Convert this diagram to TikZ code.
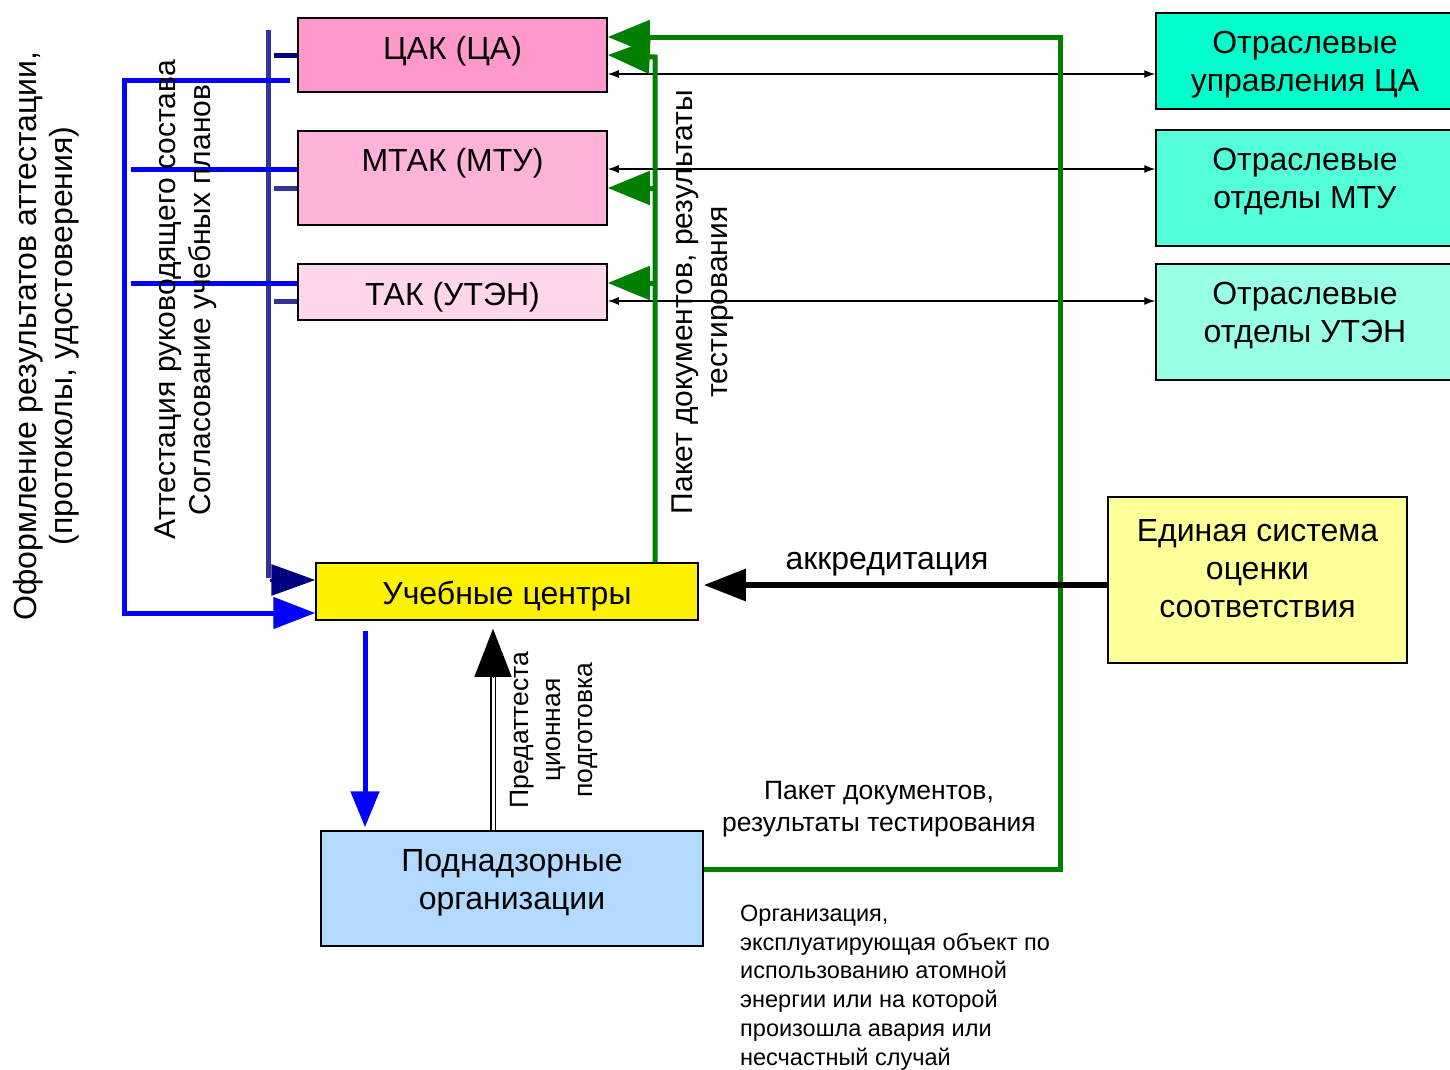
\documentclass[tikz,border=0pt]{standalone}
\usepackage{fontspec}
\setmainfont{Liberation Sans}
\usetikzlibrary{arrows.meta}
\definecolor{cakfill}{HTML}{FF99CC}
\definecolor{mtakfill}{HTML}{FFB3D9}
\definecolor{takfill}{HTML}{FFD6EB}
\definecolor{ra}{HTML}{00FFCC}
\definecolor{rb}{HTML}{52FFD9}
\definecolor{rc}{HTML}{99FFE6}
\definecolor{esosfill}{HTML}{FFFF99}
\definecolor{podfill}{HTML}{B3D9FF}
\definecolor{grn}{HTML}{008000}
\definecolor{blu}{HTML}{0000FF}
\definecolor{indig}{HTML}{333399}
\definecolor{navyc}{HTML}{000080}
\tikzset{
  box/.style={draw=black,line width=1.5pt,inner sep=0pt,rectangle},
  txt/.style={inner sep=0pt,font=\fontsize{32}{38}\selectfont,align=center,yshift=-3pt},
  rtxt/.style={inner sep=0pt,font=\fontsize{30}{35}\selectfont,align=center,rotate=90},
  thinarr/.style={line width=1.3pt,{Latex[length=11pt,width=8pt]}-{Latex[length=11pt,width=8pt]}},
  grnarr/.style={grn,line width=5pt,-{Triangle[length=42pt,width=33pt]}},
  grnline/.style={grn,line width=5pt},
  bluline/.style={blu,line width=5pt},
  bluarr/.style={blu,line width=5pt,-{Triangle[length=42pt,width=31pt]}},
  indline/.style={indig,line width=5pt},
}
\begin{document}
\begin{tikzpicture}[x=1pt,y=-1pt]
\useasboundingbox (0,0) rectangle (1450,1069);
\begin{scope}
\clip (0,0) rectangle (1450,1069);
% boxes
\node[box,fill=cakfill,minimum width=309pt,minimum height=74pt] (cak) at (452.5,55) {};
\node[box,fill=mtakfill,minimum width=309pt,minimum height=94pt] (mtak) at (452.5,178) {};
\node[box,fill=takfill,minimum width=309pt,minimum height=56pt] (tak) at (452.5,292) {};
\node[box,fill=ra,minimum width=304pt,minimum height=96pt] (ra) at (1308,61) {};
\node[box,fill=rb,minimum width=304pt,minimum height=116pt] (rb) at (1308,188) {};
\node[box,fill=rc,minimum width=304pt,minimum height=116pt] (rc) at (1308,322) {};
\node[box,fill=yellow,minimum width=382pt,minimum height=57pt] (uc) at (507,591.5) {};
\node[box,fill=esosfill,minimum width=299pt,minimum height=166pt] (esos) at (1257.5,580) {};
\node[box,fill=podfill,minimum width=382pt,minimum height=115pt] (pod) at (512,888.5) {};
\end{scope}

% named coordinates for bends and free ends
\coordinate (gcorner) at (1060,37);
\coordinate (gtop) at (655,57);
\coordinate (bstart) at (290,80);
\coordinate (bcornerA) at (124,80);
\coordinate (bcornerB) at (124,613);
\coordinate (bm) at (131,169);
\coordinate (bt) at (131,283);
\coordinate (itop) at (268,30);
\coordinate (ibot) at (268,578);

% thin double arrows
\draw[thinarr] (cak.east |- 0,74) -- (ra.west |- 0,74);
\draw[thinarr] (mtak.east |- 0,169) -- (rb.west |- 0,169);
\draw[thinarr] (tak.east |- 0,301) -- (rc.west |- 0,301);

% indigo vertical line with stubs
\draw[indline] (itop) -- (ibot);
\draw[navyc,line width=5pt] (274,55) -- (cak.west |- 0,55);
\draw[indline] (274,188) -- (mtak.west |- 0,188);
\draw[indline] (274,301) -- (tak.west |- 0,301);
\draw[navyc,line width=3pt,-{Triangle[length=44pt,width=31pt]}] (ibot) ++(2,2) -- (uc.west |- 0,580);

% blue bracket and lines
\draw[bluarr] (bstart) -- (bcornerA) -- (bcornerB) -- (uc.west |- 0,613);
\draw[bluline] (bm) -- (mtak.west |- 0,169);
\draw[bluline] (bt) -- (tak.west |- 0,283);

% blue down arrow
\draw[blu,line width=5pt,-{Triangle[length=36pt,width=28pt]}] (uc.south -| 365,0) ++(0,10) -- ([yshift=3pt]pod.north -| 365,0);

% double black up arrow
\draw[black,line width=1.6pt,double=white,double distance=3pt] (pod.north -| 493,0) -- (493,674);
\draw[black,line width=1pt,-{Triangle[length=48pt,width=37pt]}] (493,678) -- ([yshift=-8pt]uc.south -| 493,0);

% green lines
\draw[grnarr] (pod.east |- 0,869) -| (gcorner) -- (cak.east |- 0,37);
\draw[grnarr] (uc.north -| 655,0) -- (gtop) -- (cak.east |- 0,55);
\draw[grnarr] (655,188) -- (mtak.east |- 0,188);
\draw[grnarr] (655,283) -- (tak.east |- 0,283);

% accreditation arrow
\draw[black,line width=6pt,-{Triangle[length=42pt,width=31pt]}] (esos.west |- 0,585) -- ([xshift=5pt]uc.east |- 0,585);

% box texts
\node[txt] (tcak) at (452.5,48) {ЦАК (ЦА)};
\node[txt] (tmtak) at (452.5,160) {МТАК (МТУ)};
\node[txt] (ttak) at (452.5,294) {ТАК (УТЭН)};
\node[txt] (tra) at (1305,62) {Отраслевые\\управления ЦА};
\node[txt] (trb) at (1305,179) {Отраслевые\\отделы МТУ};
\node[txt] (trc) at (1305,313) {Отраслевые\\отделы УТЭН};
\node[txt] (tuc) at (507,593) {Учебные центры};
\node[txt] (tesos) at (1257.5,566) {Единая система\\оценки\\соответствия};
\node[txt] (tpod) at (512,880) {Поднадзорные\\организации};

% labels
\node[txt] (lakk) at (887,561) {аккредитация};
\node[rtxt,font=\fontsize{32}{36}\selectfont] (loform) at (46,336) {Оформление результатов аттестации,\\(протоколы, удостоверения)};
\node[rtxt] (latt) at (186,300) {Аттестация руководящего состава\\Согласование учебных планов};
\node[rtxt] (lpak) at (703,302) {Пакет документов, результаты\\тестирования};
\node[rtxt,font=\fontsize{26.5}{32}\selectfont] (lpred) at (554,730) {Предаттеста\\ционная\\подготовка};
\node[txt,font=\fontsize{26.5}{32}\selectfont] (lpak2) at (879,806) {Пакет документов,\\результаты тестирования};
\node[txt,font=\fontsize{23.5}{28.7}\selectfont,align=left,anchor=west] (lorg) at (740,984.5) {Организация,\\эксплуатирующая объект по\\использованию атомной\\энергии или на которой\\произошла авария или\\несчастный случай};
\end{tikzpicture}
\end{document}
